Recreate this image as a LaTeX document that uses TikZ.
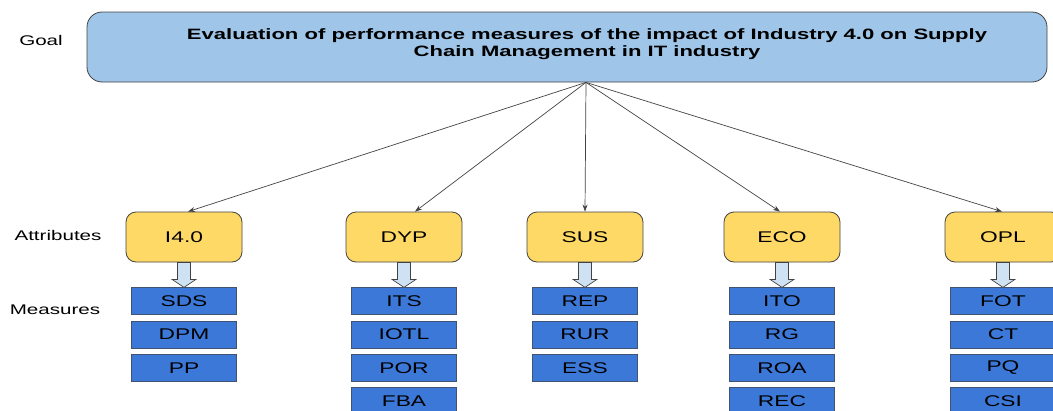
\documentclass[tikz,border=0pt]{standalone}
\usepackage{fontspec}
\setmainfont{Liberation Sans}[FakeStretch=1.47]
\usetikzlibrary{positioning}
\usetikzlibrary{calc}
\usetikzlibrary{arrows.meta}

\definecolor{goalblue}{HTML}{9FC5E8}
\definecolor{attryellow}{HTML}{FFD966}
\definecolor{measblue}{HTML}{3C78D8}
\definecolor{arrowblue}{HTML}{CFE2F3}
\definecolor{edgegray}{HTML}{434343}

\tikzset{
    goalbox/.style={draw=edgegray, fill=goalblue, rounded corners=15pt, minimum width=960pt, minimum height=70pt, line width=0.8pt},
    goaltext/.style={align=center, inner sep=0pt, font=\fontsize{15}{17}\selectfont\bfseries},
    attr/.style={draw=edgegray, fill=attryellow, rounded corners=10pt, minimum width=116pt, minimum height=50pt, line width=0.8pt, font=\fontsize{15.5}{18}\selectfont},
    meas/.style={draw=edgegray!70!measblue, fill=measblue, minimum width=105pt, minimum height=27pt, inner sep=0pt, line width=0.8pt, font=\fontsize{15.5}{18}\selectfont},
    rowlabel/.style={font=\fontsize{14}{16}\selectfont},
    link/.style={-{Stealth[length=7pt,width=5pt]}, draw=edgegray, line width=0.7pt},
    blockarrow/.style={draw=edgegray, fill=arrowblue, line width=0.7pt}
}

\begin{document}
\begin{tikzpicture}[x=1pt, y=-1pt, node distance=5.5pt]
    \useasboundingbox (0,0) rectangle (1053,410);

    % row labels
    \node (lgoal) [rowlabel] at (41,40)  {Goal};
    \node (lattr) [rowlabel] at (58,235) {Attributes};
    \node (lmeas) [rowlabel] at (55,310) {Measures};

    \node (goal) [goalbox] at (567,47) {};
    \node (goaltxt) [goaltext] at (587,44.5) {Evaluation of performance measures of the impact of Industry 4.0 on Supply\\Chain Management in IT industry};
    \coordinate (hub) at ($(goal.south)+(19,0)$);

    \node (i40) [attr] at (184,237)  {I4.0};
    \node (dyp) [attr] at (404,237)  {DYP};
    \node (sus) [attr] at (585,237)  {SUS};
    \node (eco) [attr] at (782,237)  {ECO};
    \node (opl) [attr] at (1003,237) {OPL};

    \node (sds)  [meas, below=25pt of i40] {SDS};
    \node (dpm)  [meas, below=of sds]      {DPM};
    \node (pp)   [meas, below=of dpm]      {PP};

    \node (its)  [meas, below=25pt of dyp] {ITS};
    \node (iotl) [meas, below=of its]      {IOTL};
    \node (por)  [meas, below=of iotl]     {POR};
    \node (fba)  [meas, below=of por]      {FBA};

    \node (rep)  [meas, below=25pt of sus] {REP};
    \node (rur)  [meas, below=of rep]      {RUR};
    \node (ess)  [meas, below=of rur]      {ESS};

    \node (ito)  [meas, below=25pt of eco] {ITO};
    \node (rg)   [meas, below=of ito]      {RG};
    \node (roa)  [meas, below=of rg]       {ROA};
    \node (rec)  [meas, below=of roa]      {REC};

    \node (fot)  [meas, below=25pt of opl] {FOT};
    \node (ct)   [meas, below=of fot]      {CT};
    \node (pq)   [meas, below=of ct]       {PQ};
    \node (csi)  [meas, below=of pq]       {CSI};

    \foreach \a/\dx in {i40/4, dyp/11, sus/0, eco/-2, opl/-1}
        \draw[link] (hub) -- ($(\a.north)+(\dx,0)$);

    % hollow block arrows from each attribute to its first measure
    \foreach \a/\m in {i40/sds, dyp/its, sus/rep, eco/ito, opl/fot}
        \draw[blockarrow] ($(\a.south)+(-6.5,0)$) -- ($(\m.north)+(-6.5,-8)$) -- ($(\m.north)+(-12,-8)$)
            -- (\m.north) -- ($(\m.north)+(12,-8)$) -- ($(\m.north)+(6.5,-8)$) -- ($(\a.south)+(6.5,0)$) -- cycle;
\end{tikzpicture}
\end{document}
